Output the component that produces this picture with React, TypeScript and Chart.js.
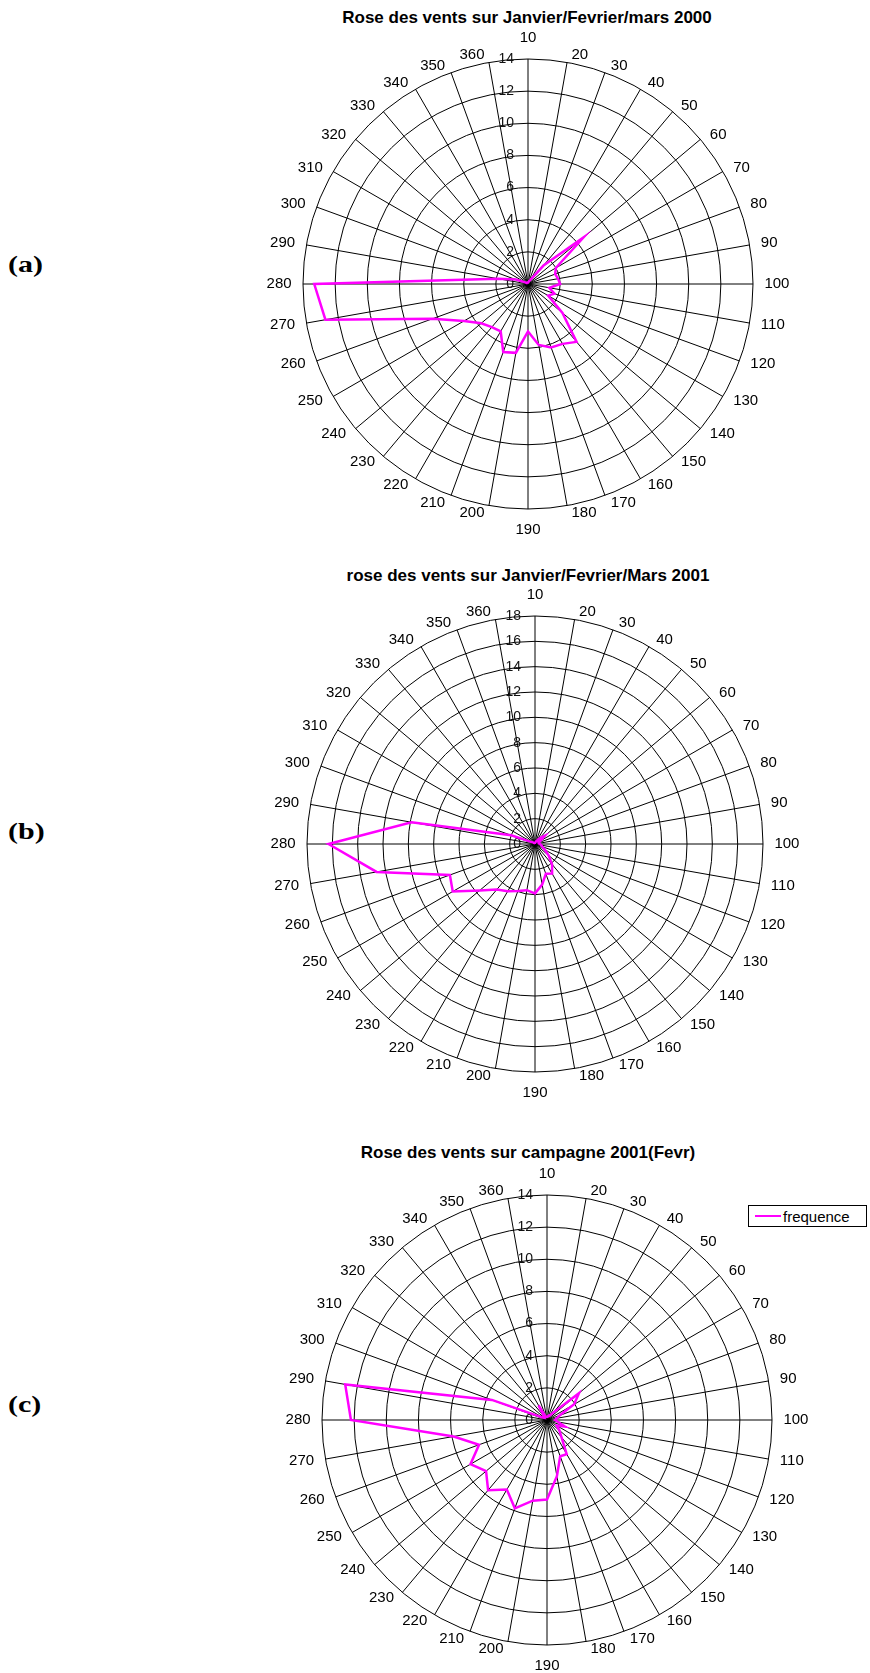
import React, { useEffect, useRef } from 'react';
import { Chart, registerables } from 'chart.js';

Chart.register(...registerables);

const FONT = "'Liberation Sans', Arial, sans-serif";

// Wind directions (degrees), first one at the top, clockwise
const directions = [
  '10', '20', '30', '40', '50', '60', '70', '80', '90', '100',
  '110', '120', '130', '140', '150', '160', '170', '180', '190', '200',
  '210', '220', '230', '240', '250', '260', '270', '280', '290', '300',
  '310', '320', '330', '340', '350', '360',
];

// (a) Janvier/Fevrier/mars 2000
const freqA = [
  0.1, 0.1, 0.2, 0.3, 1.5, 4.5, 2.0, 1.8, 1.9, 2.0,
  1.35, 1.75, 1.45, 2.8, 4.7, 4.3, 4.2, 3.85, 2.95, 4.35,
  4.5, 3.4, 3.5, 3.8, 4.6, 6.3, 12.8, 13.3, 1.9, 0.8,
  0.2, 0.1, 0.1, 0.1, 0.1, 0.1,
];

// (b) Janvier/Fevrier/Mars 2001
const freqB = [
  0.1, 0.1, 0.2, 0.3, 0.6, 1.0, 0.5, 0.3, 0.3, 0.4,
  0.5, 0.6, 0.9, 1.4, 2.1, 2.7, 2.5, 3.25, 3.9, 3.7,
  3.95, 4.3, 4.7, 5.7, 7.5, 7.15, 12.7, 16.3, 9.9, 2.0,
  0.3, 0.2, 0.1, 0.1, 0.1, 0.1,
];

// (c) campagne 2001 (Fevr)
const freqC = [
  0.2, 0.2, 0.3, 0.3, 0.6, 2.6, 1.95, 0.85, 0.6, 0.5,
  0.7, 1.2, 0.7, 1.0, 1.4, 2.45, 2.4, 3.55, 4.95, 5.1,
  5.85, 5.0, 5.7, 4.95, 5.5, 4.5, 5.9, 12.2, 12.75, 3.65,
  0.3, 0.2, 0.3, 1.05, 0.2, 0.2,
];

const ticksA = [0, 2, 4, 6, 8, 10, 12, 14];
const ticksB = [0, 2, 4, 6, 8, 10, 12, 14, 16, 18];
const ticksC = [0, 2, 4, 6, 8, 10, 12, 14];

const titleA = 'Rose des vents sur Janvier/Fevrier/mars 2000';
const titleB = 'rose des vents sur Janvier/Fevrier/Mars 2001';
const titleC = 'Rose des vents sur campagne 2001(Fevr)';
const seriesName = 'frequence';

// value labels (including 0) just left of the vertical axis, and
// direction labels placed around the outer circle like the spreadsheet does
const labelsPlugin = {
  id: 'roseLabels',
  beforeDatasetsDraw(chart: any) {
    const s = chart.scales.r;
    const ctx = chart.ctx;
    const R = s.drawingArea;
    ctx.save();
    ctx.fillStyle = '#111';
    ctx.textBaseline = 'middle';

    ctx.font = `14px ${FONT}`;
    ctx.textAlign = 'right';
    s.ticks.forEach((t: any) => {
      const d = s.getDistanceFromCenterForValue(t.value);
      ctx.fillText(String(t.value), s.xCenter - 14, s.yCenter - d);
    });

    ctx.font = `15px ${FONT}`;
    ctx.textAlign = 'center';
    ctx.fillStyle = '#000';
    (chart.data.labels as string[]).forEach((lab: string, i: number) => {
      const a = s.getIndexAngle(i);
      const sin = Math.sin(a);
      const cos = Math.cos(a);
      const w = ctx.measureText(lab).width;
      let x: number;
      let y: number;
      if (Math.abs(sin) < 1e-6) {
        const p = s.getPointPosition(i, R + 21);
        x = p.x;
        y = p.y;
      } else {
        const px = s.getPointPosition(i, R + 8.4).x;
        const py = s.getPointPosition(i, R + 6.7).y;
        x = px + Math.sign(sin) * (w / 2 + 3);
        y = py - (Math.abs(cos) < 1e-6 ? 0 : Math.sign(cos) * 0.7);
      }
      ctx.fillText(lab, x, y);
    });
    ctx.restore();
  },
};

type RoseProps = { values: number[]; ticks: number[]; radius: number; cx: number; cy: number };

const PAD = 45;

function Rose({ values, ticks, radius, cx, cy }: RoseProps) {
  const ref = useRef<HTMLCanvasElement | null>(null);
  const size = 2 * (radius + PAD);
  useEffect(() => {
    if (!ref.current) return;
    const chart = new Chart(ref.current, {
      type: 'radar',
      data: {
        labels: directions,
        datasets: [
          {
            label: seriesName,
            data: values,
            borderColor: '#FF00FF',
            backgroundColor: '#FF00FF',
            borderWidth: 2.5,
            pointRadius: 0,
            pointHoverRadius: 0,
            fill: false,
            tension: 0,
          },
        ],
      },
      options: {
        responsive: false,
        animation: false,
        devicePixelRatio: 1,
        layout: { padding: PAD },
        plugins: {
          legend: { display: false },
          title: { display: false },
          tooltip: { enabled: false },
        },
        scales: {
          r: {
            min: 0,
            max: ticks[ticks.length - 1],
            ticks: { display: false, stepSize: ticks[1] - ticks[0] },
            grid: { circular: true, color: '#000', lineWidth: 1 },
            angleLines: { display: true, color: '#000', lineWidth: 1 },
            pointLabels: { display: false },
          },
        },
      } as any,
      plugins: [labelsPlugin],
    });
    return () => chart.destroy();
  }, [values, ticks]);
  return (
    <canvas
      ref={ref}
      width={size}
      height={size}
      style={{
        position: 'absolute',
        left: cx - (radius + PAD),
        top: cy - (radius + PAD),
        width: size,
        height: size,
      }}
    />
  );
}

const titleStyle = (cx: number, cy: number): React.CSSProperties => ({
  position: 'absolute',
  left: cx - 300,
  width: 600,
  top: cy - 10,
  height: 20,
  lineHeight: '20px',
  textAlign: 'center',
  font: `bold 17px ${FONT}`,
  color: '#000',
  whiteSpace: 'nowrap',
});

const tagStyle = (cy: number): React.CSSProperties => ({
  position: 'absolute',
  left: 8,
  top: cy - 16,
  height: 28,
  lineHeight: '28px',
  font: "bold 24px 'Liberation Serif', 'Times New Roman', serif",
  color: '#000',
  transform: 'scaleX(1.25)',
  transformOrigin: '0 50%',
});

export default function App() {
  return (
    <div style={{ position: 'absolute', left: 0, top: 0, width: 870, height: 1673, background: '#fff' }}>
      <div style={titleStyle(527, 18)}>{titleA}</div>
      <div style={tagStyle(267)}>(a)</div>
      <Rose values={freqA} ticks={ticksA} radius={225} cx={528} cy={284} />

      <div style={titleStyle(528, 576)}>{titleB}</div>
      <div style={tagStyle(834)}>(b)</div>
      <Rose values={freqB} ticks={ticksB} radius={228} cx={535} cy={844} />

      <div style={titleStyle(528, 1153)}>{titleC}</div>
      <div style={tagStyle(1407)}>(c)</div>
      <Rose values={freqC} ticks={ticksC} radius={225} cx={547} cy={1420} />

      <div
        style={{
          position: 'absolute',
          left: 748,
          top: 1205,
          width: 117,
          height: 20,
          border: '1px solid #000',
          background: '#fff',
          display: 'flex',
          alignItems: 'center',
          font: `15px ${FONT}`,
          color: '#000',
        }}
      >
        <span style={{ display: 'inline-block', width: 26, height: 2.5, background: '#FF00FF', marginLeft: 6, marginRight: 2 }} />
        <span>{seriesName}</span>
      </div>
    </div>
  );
}
